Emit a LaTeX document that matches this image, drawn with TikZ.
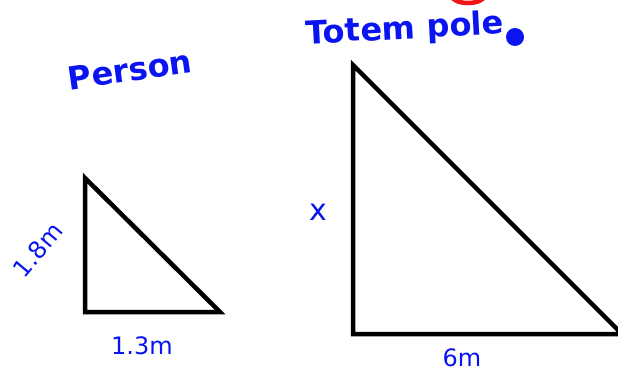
\documentclass[tikz,border=0pt]{standalone}
\usepackage{fontspec}
\setmainfont{DejaVu Sans}
\begin{document}
\begin{tikzpicture}[x=1pt,y=-1pt,
  tri/.style={draw=black,line width=4.5pt,line join=miter},
  hand/.style={text=ink,font=\fontsize{24}{26}\selectfont,inner sep=0pt},
  title/.style={text=ink,font=\bfseries\fontsize{32}{34}\selectfont,inner sep=0pt}]
\definecolor{ink}{RGB}{10,20,240}
\definecolor{redink}{RGB}{240,20,20}
\useasboundingbox (0,0) rectangle (618,380);
% small triangle (person)
\coordinate (pa) at (85,178);
\coordinate (pb) at (85,312);
\coordinate (pc) at (220,312);
\draw[tri] (pa) -- (pb) -- (pc) -- cycle;
% big triangle (totem pole)
\coordinate (ta) at (353,65);
\coordinate (tb) at (353,334);
\coordinate (tc) at (622,334);
\draw[tri] (ta) -- (tb) -- (tc) -- cycle;
% titles
\node[title,rotate=8] (person) at (130,70) {Person};
\node[title,rotate=3] (totem) at (405,30) {Totem pole};
\fill[ink] (515,37) circle (9) node (dot) {};
\draw[redink,line width=4.5pt] (452,-4) arc (180:0:16 and 7) coordinate (redarc);
% labels
\node[hand,rotate=50] (l18) at (38,250) {1.8m};
\node[hand] (l13) at (142,346) {1.3m};
\node[hand,font=\fontsize{30}{32}\selectfont] (lx) at (318,212) {x};
\node[hand] (l6) at (462,358) {6m};
\end{tikzpicture}
\end{document}
